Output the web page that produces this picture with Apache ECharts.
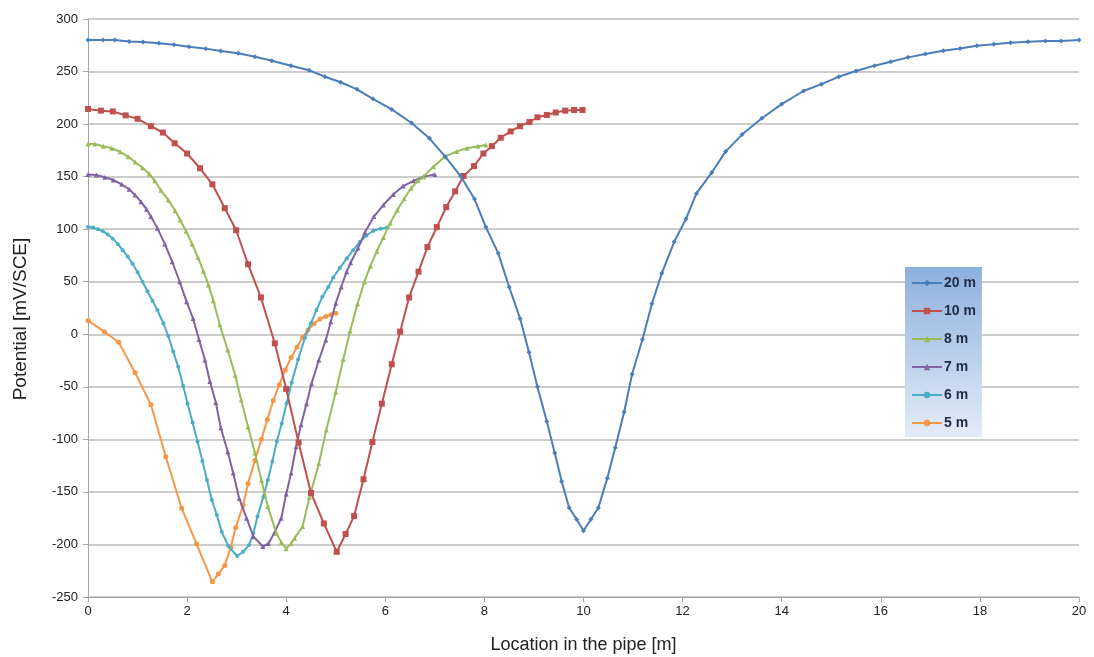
<!DOCTYPE html>
<html>
<head>
<meta charset="utf-8">
<script src="https://cdn.jsdelivr.net/npm/echarts@6/dist/echarts.min.js"></script>
<style>html,body{margin:0;padding:0;background:#fff;}#c{width:1094px;height:657px;}</style>
</head>
<body>
<div id="c"></div>
<script>
// ---- data ----
const seriesNames = ['20 m', '10 m', '8 m', '7 m', '6 m', '5 m'];

const x20 = [0,0.3,0.54,0.83,1.11,1.43,1.74,2.04,2.38,2.68,3.03,3.37,3.71,4.1,4.46,4.78,5.1,5.43,5.75,6.13,6.53,6.89,7.21,7.52,7.8,8.03,8.28,8.5,8.72,8.9,9.07,9.26,9.42,9.56,9.71,9.86,10.0,10.15,10.3,10.48,10.64,10.82,10.98,11.19,11.38,11.58,11.83,12.07,12.28,12.59,12.87,13.2,13.6,14.0,14.44,14.8,15.15,15.5,15.87,16.2,16.55,16.9,17.26,17.6,17.94,18.28,18.62,18.97,19.32,19.64,20];
const y20 = [280,280,280,278.5,278,277,275.6,273.7,271.8,269.6,267.4,264.1,260.3,255.6,251.2,245.1,239.8,233.1,224,214,201,186.5,169,150.6,128.7,102,77,45,15,-17,-50,-83,-113,-140,-165,-176,-187,-176,-165,-137,-108,-74,-38,-5,29,58,88,110,134,154,174,190,205.5,219,231.5,238,245,250.5,255.6,259.4,263.5,266.7,269.8,272,274.6,276,277.5,278.4,279,279,280];

const x10 = [0,0.26,0.5,0.76,1.0,1.27,1.51,1.75,2.0,2.26,2.51,2.76,2.99,3.23,3.49,3.77,4.0,4.25,4.5,4.76,5.02,5.2,5.37,5.56,5.74,5.93,6.13,6.3,6.48,6.67,6.85,7.04,7.23,7.41,7.58,7.79,7.98,8.15,8.33,8.53,8.72,8.91,9.07,9.26,9.44,9.63,9.81,9.98];
const y10 = [214.4,212.8,212,208.3,205,198,192,181.7,172,158,142.7,120,99,66.6,35,-8.6,-52,-103,-151,-180,-207,-190,-173,-138,-102.5,-66,-28.5,2.5,35,59.6,83,102,121,136,150.6,160,172,179,187,193,198,202,206.5,208.7,211,212.8,213.4,213.4];

const x8 = [0,0.14,0.31,0.48,0.65,0.81,0.95,1.1,1.24,1.35,1.47,1.62,1.76,1.86,1.98,2.1,2.22,2.33,2.43,2.53,2.66,2.82,2.97,3.09,3.23,3.37,3.5,3.63,3.8,3.9,4.0,4.1,4.17,4.33,4.47,4.66,4.81,5.0,5.15,5.29,5.44,5.58,5.7,5.83,5.96,6.1,6.24,6.38,6.52,6.66,6.77,6.97,7.2,7.44,7.65,7.87,8.03];
const y8 = [181,181,179,177,173.7,169,164,158.5,152.5,146,137,127.8,117.6,108.7,98,86,73,60,47,32,9,-15,-39,-62.5,-88,-113,-139,-164,-189,-198,-204,-199,-194,-183,-155,-123,-91,-55,-24,3,29,50,65,79,92,106,118,129,139,146,150,159.5,169,174,177,179,180];

const x7 = [0,0.17,0.34,0.51,0.68,0.83,0.95,1.07,1.18,1.27,1.4,1.55,1.7,1.85,1.99,2.12,2.24,2.36,2.46,2.58,2.68,2.82,2.93,3.05,3.2,3.34,3.53,3.64,3.76,3.9,4.0,4.1,4.2,4.3,4.41,4.51,4.66,4.8,4.9,5.0,5.11,5.22,5.3,5.45,5.59,5.77,5.96,6.16,6.36,6.57,6.77,7.0];
const y7 = [152,151.6,149.4,146.8,142.7,138,132.5,126,119,112,101,86,69,50,31,15,-5,-24.5,-45,-65,-89,-111.7,-132,-156,-175,-192.6,-202,-199,-189,-175,-152,-132,-107,-86,-66,-47,-24.5,-5.4,12,29.5,45,59.6,68,82,97,112,123,133,141,146,150,152];

const x6 = [0,0.1,0.2,0.3,0.4,0.5,0.6,0.7,0.8,0.9,1.0,1.1,1.2,1.3,1.4,1.52,1.62,1.72,1.82,1.92,2.01,2.11,2.21,2.31,2.4,2.5,2.6,2.7,2.83,3.01,3.13,3.25,3.34,3.42,3.54,3.63,3.72,3.81,3.91,4.01,4.11,4.24,4.38,4.5,4.61,4.73,4.85,4.95,5.08,5.22,5.35,5.49,5.62,5.76,5.9,6.04];
const y6 = [102,101.5,100,98,95,91,86,80,74,67,59,50,41,32,23,10.5,-1.6,-16.5,-31,-49,-66,-84,-102,-120.5,-138.6,-157.6,-172,-188,-201.5,-211,-207,-200.5,-189,-173.5,-154.5,-138.6,-121,-102,-85,-65.7,-46,-24,-3,10.5,23,35.8,45,54,63,72,80,88,94,98.5,100.5,101.5];

const x5 = [0,0.33,0.62,0.95,1.27,1.57,1.89,2.19,2.51,2.63,2.76,2.88,2.98,3.13,3.23,3.37,3.5,3.62,3.74,3.86,3.98,4.1,4.22,4.33,4.44,4.56,4.68,4.8,4.9,5.0];
const y5 = [13,2.5,-7.6,-36.5,-67,-116.5,-165.5,-199.5,-235.5,-228,-220,-203,-184,-163,-142,-120,-100,-81,-63,-48,-34,-22,-12,-3,4,10,14.5,17,18.5,20];

const xTicks = [0,2,4,6,8,10,12,14,16,18,20];
const yTicks = [-250,-200,-150,-100,-50,0,50,100,150,200,250,300];

const colors = ['#4A7EBB','#C0504D','#9BBB59','#8064A2','#4BACC6','#F79646'];
const symbols = ['diamond','rect','triangle','triangle','circle','circle'];
const symbolSizes = [5,6,5,5,4,5];

const xs = [x20,x10,x8,x7,x6,x5];
const ys = [y20,y10,y8,y7,y6,y5];

function pairs(xa, ya){ return xa.map((v,i)=>[v, ya[i]]); }

const chart = echarts.init(document.getElementById('c'), null, {renderer:'canvas'});
const font = 'Liberation Sans, Arial, sans-serif';

chart.setOption({
  animation: false,
  backgroundColor: '#ffffff',
  color: colors,
  grid: { left: 88, right: 15, top: 19, bottom: 60, containLabel: false, outerBoundsMode: 'none' },
  xAxis: {
    type: 'value', min: xTicks[0], max: xTicks[xTicks.length-1], interval: 2,
    name: 'Location in the pipe [m]', nameLocation: 'middle', nameGap: 39,
    nameTextStyle: { fontFamily: font, fontSize: 18, color: '#222' },
    axisLine: { show: true, onZero: false, lineStyle: { color: '#a6a6a6', width: 1 } },
    axisTick: { show: true, length: 5, lineStyle: { color: '#a6a6a6' } },
    axisLabel: { fontFamily: font, fontSize: 13, color: '#222', margin: 8 },
    splitLine: { show: false }
  },
  yAxis: {
    type: 'value', min: yTicks[0], max: yTicks[yTicks.length-1], interval: 50,
    name: 'Potential [mV/SCE]', nameLocation: 'middle', nameGap: 58, nameRotate: 90,
    nameTextStyle: { fontFamily: font, fontSize: 19, color: '#222', padding: [0, 0, 0, -22] },
    axisLine: { show: true, lineStyle: { color: '#a6a6a6', width: 1 } },
    axisTick: { show: true, length: 5, lineStyle: { color: '#a6a6a6' } },
    axisLabel: { fontFamily: font, fontSize: 13, color: '#222', margin: 10 },
    splitLine: { show: true, lineStyle: { color: '#bdbdbd', width: 1.5 } }
  },
  legend: {
    orient: 'vertical', left: 905, top: 267,
    data: seriesNames,
    itemWidth: 30, itemHeight: 8, itemGap: 14,
    padding: [9, 6, 7, 6],
    textStyle: { fontFamily: font, fontSize: 14, fontWeight: 'bold', color: '#1f2a44', padding: [0,0,0,-3] },
    backgroundColor: new echarts.graphic.LinearGradient(0, 0, 0, 1, [
      { offset: 0, color: '#8DB0DE' },
      { offset: 1, color: '#E4ECF7' }
    ])
  },
  series: seriesNames.map((n, i) => ({
    name: n, type: 'line',
    data: pairs(xs[i], ys[i]),
    symbol: symbols[i], symbolSize: symbolSizes[i], showSymbol: true,
    lineStyle: { width: 2, color: colors[i] },
    itemStyle: { color: colors[i] },
    smooth: false, z: 10 - i
  }))
});
</script>
</body>
</html>
